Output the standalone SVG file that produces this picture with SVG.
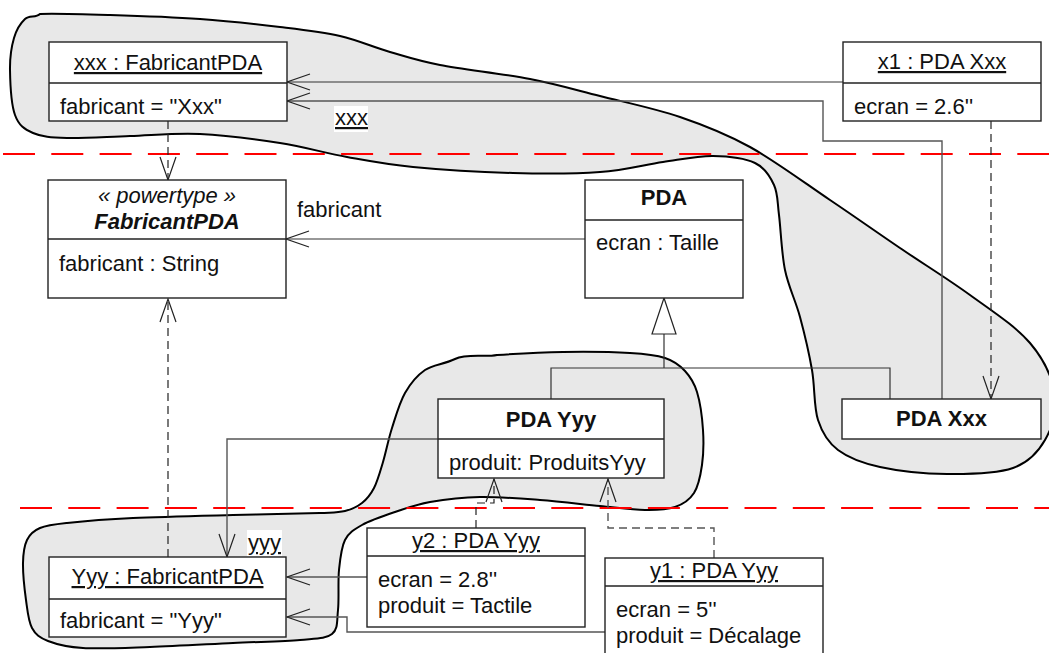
<svg xmlns="http://www.w3.org/2000/svg" width="1049" height="653" viewBox="0 0 1049 653">
<style>
.blob{fill:#e8e8e8;stroke:#000;stroke-width:2}
.sep{fill:none;stroke:#f00;stroke-width:2.2;stroke-dasharray:32 16.3}
.box{fill:#fff;stroke:#222;stroke-width:1.4}
.div{stroke:#222;stroke-width:1.4}
.ln{fill:none;stroke:#333;stroke-width:1.2}
.gln{fill:none;stroke:#555;stroke-width:1.4}
.dash{fill:none;stroke:#222;stroke-width:1.2;stroke-dasharray:8 5}
.gdash{fill:none;stroke:#555;stroke-width:1.4;stroke-dasharray:8 5}
text{font-family:"Liberation Sans",Arial,Helvetica,sans-serif;font-size:22px;fill:#111}
.c{text-anchor:middle}
.u{text-decoration:underline}
.b{font-weight:bold}
.i{font-style:italic}
</style>
<defs>
<marker id="arr" viewBox="-24 -9 26 18" refX="0" refY="0" markerWidth="26" markerHeight="18" orient="auto" markerUnits="userSpaceOnUse">
<path d="M-23,-8 L0,0 L-23,8" fill="none" stroke="#222" stroke-width="1.2"/>
</marker>
</defs>

<g id="regions">
<path class="blob" d="M40,14 C54.2,13.3 83.3,14.2 110,15 S171.7,17 200,19 S256.7,24.2 280,27 S321.7,31.8 340,36 S373.3,47.2 390,52 S416.7,60.5 440,65 S503.3,73.8 530,79 S575,89.7 600,96 S655,108.5 680,117 S725,133.2 750,147 S805,183.2 830,200 S876.7,232.2 900,248 S948.3,279.2 970,295 S1015.8,326.3 1030,343 S1052.5,378.8 1055,395 S1052,427.8 1045,440 S1029.3,462.3 1013,468 S969.2,474.2 947,474 S898.2,471 880,467 S848.3,457.8 838,450 S822.3,433.3 818,420 S815,387.2 812,370 S804.5,333.7 800,317 S788.5,287 785,270 S780.8,229.2 779,215 S778,193.7 774,185 S765.2,167.8 755,163 S728.3,156.2 713,156 S681.8,159.3 663,162 S625,170.2 600,172 S544.2,173.8 513,173 S440.7,169.7 413,167 S369.2,161 347,157 S304.5,146.8 280,143 S225,135.2 200,134 S152.2,135.3 130,136 S83.2,138.5 67,138 S41.7,136.8 33,133 S18.8,125.5 15,115 S10.2,82.8 10,70 S11.5,46.5 14,38 S20.7,23 25,19 S35.7,18 40,14 Z"/>
<path class="blob" d="M497,355 C515,353.8 540.8,352.3 563,352 S613,352 630,353 S655.8,355 665,358 S679.7,365.3 685,371 S694,382.2 697,392 S702.2,417.8 703,430 S703.5,454.5 702,465 S698.5,486 694,493 S683.2,504.2 675,507 S657.5,510.2 645,510 S617.5,507.7 600,506 S560,501.5 540,500 S498.3,496.7 480,497 S444.2,499.5 430,502 S406.3,508.2 395,512 S370.3,520.3 362,525 S348.8,532.5 345,540 S340.2,558.3 339,570 S339.2,599.3 338,610 S338.3,629 332,634 S316.5,638.5 300,640 S258,641.8 233,643 S175,646.2 150,647 S100,649 83,648 S56.5,644.3 48,641 S35.7,634.8 32,628 S27.5,610.8 26,600 S22.8,573 23,563 S24.2,545.8 27,540 S33.3,530.8 40,528 S51.5,524.7 67,523 S105.3,519.3 133,518 S201.8,515.8 233,515 S301.3,513.7 320,513 S338,512.7 345,511 S357.2,506.8 362,503 S370.5,494.8 374,488 S380,472 383,462 S388.3,439.5 392,428 S399.5,402.7 405,393 S416.7,375.7 425,370 S443,364.7 455,359 S485,357.5 497,355 Z"/>
</g>

<g id="separators">
<line class="sep" x1="3" y1="154" x2="1049" y2="154"/>
<line class="sep" x1="20" y1="508" x2="1049" y2="508"/>
</g>

<g id="connectors">
<path class="ln" d="M843,82 H287" marker-end="url(#arr)"/>
<path class="gln" d="M942,399 V141 H823 V101 H287" marker-end="url(#arr)"/>
<path class="dash" d="M991,121 V399" marker-end="url(#arr)"/>
<path class="dash" d="M168,121 V180" marker-end="url(#arr)"/>
<path class="ln" d="M585,239 H286" marker-end="url(#arr)"/>
<path class="dash" d="M168,557 V299" marker-end="url(#arr)"/>
<polyline class="ln" points="551,399 551,368 890,368 890,399"/>
<line class="ln" x1="664" y1="334" x2="664" y2="368"/>
<polygon points="664,298 652,334 676,334" fill="#fff" stroke="#222" stroke-width="1.2"/>
<path class="gln" d="M438,439 H227 V557" marker-end="url(#arr)"/>
<path class="gln" d="M367,577 H287" marker-end="url(#arr)"/>
<path class="gln" d="M605,632 H347 V617 H287" marker-end="url(#arr)"/>
<path class="dash" d="M476,528 V503 H494 V479" marker-end="url(#arr)"/>
<path class="gdash" d="M714,558 V528 H608 V479" marker-end="url(#arr)"/>
<rect x="334" y="106" width="34" height="26" fill="#fff"/>
<text x="335" y="125" class="u">xxx</text>
<rect x="247" y="530" width="35" height="26" fill="#fff"/>
<text x="248" y="550" class="u">yyy</text>
<text x="297" y="217">fabricant</text>
</g>

<g id="xxx">
<rect class="box" x="49" y="42" width="238" height="79"/>
<line class="div" x1="49" y1="83" x2="287" y2="83"/>
<text x="168" y="70" class="c u">xxx : FabricantPDA</text>
<text x="60" y="114">fabricant = "Xxx"</text>
</g>

<g id="x1">
<rect class="box" x="843" y="42" width="198" height="79"/>
<line class="div" x1="843" y1="83" x2="1041" y2="83"/>
<text x="942" y="69" class="c u">x1 : PDA Xxx</text>
<text x="854" y="114">ecran = 2.6''</text>
</g>

<g id="FabricantPDA">
<rect class="box" x="48" y="180" width="238" height="118"/>
<line class="div" x1="48" y1="239" x2="286" y2="239"/>
<text x="167" y="203" class="c i">« powertype »</text>
<text x="167" y="229" class="c i b">FabricantPDA</text>
<text x="59" y="271">fabricant : String</text>
</g>

<g id="PDA">
<rect class="box" x="585" y="180" width="158" height="118"/>
<line class="div" x1="585" y1="220" x2="743" y2="220"/>
<text x="664" y="205" class="c b">PDA</text>
<text x="596" y="250">ecran : Taille</text>
</g>

<g id="PDAYyy">
<rect class="box" x="438" y="399" width="226" height="79"/>
<line class="div" x1="438" y1="439" x2="664" y2="439"/>
<text x="551" y="427" class="c b">PDA Yyy</text>
<text x="449" y="470">produit: ProduitsYyy</text>
</g>

<g id="PDAXxx">
<rect class="box" x="842" y="399" width="199" height="40"/>
<text x="941.5" y="426" class="c b">PDA Xxx</text>
</g>

<g id="Yyy">
<rect class="box" x="49" y="557" width="237" height="80"/>
<line class="div" x1="49" y1="599" x2="286" y2="599"/>
<text x="167.5" y="584" class="c u">Yyy : FabricantPDA</text>
<text x="60" y="628">fabricant = "Yyy"</text>
</g>

<g id="y2">
<rect class="box" x="367" y="528" width="218" height="99"/>
<line class="div" x1="367" y1="556" x2="585" y2="556"/>
<text x="476" y="548" class="c u">y2 : PDA Yyy</text>
<text x="378" y="587">ecran = 2.8''</text>
<text x="378" y="613">produit = Tactile</text>
</g>

<g id="y1">
<rect class="box" x="605" y="558" width="218" height="110"/>
<line class="div" x1="605" y1="586" x2="823" y2="586"/>
<text x="714" y="578" class="c u">y1 : PDA Yyy</text>
<text x="616" y="617">ecran = 5''</text>
<text x="616" y="643">produit = Décalage</text>
</g>
</svg>
